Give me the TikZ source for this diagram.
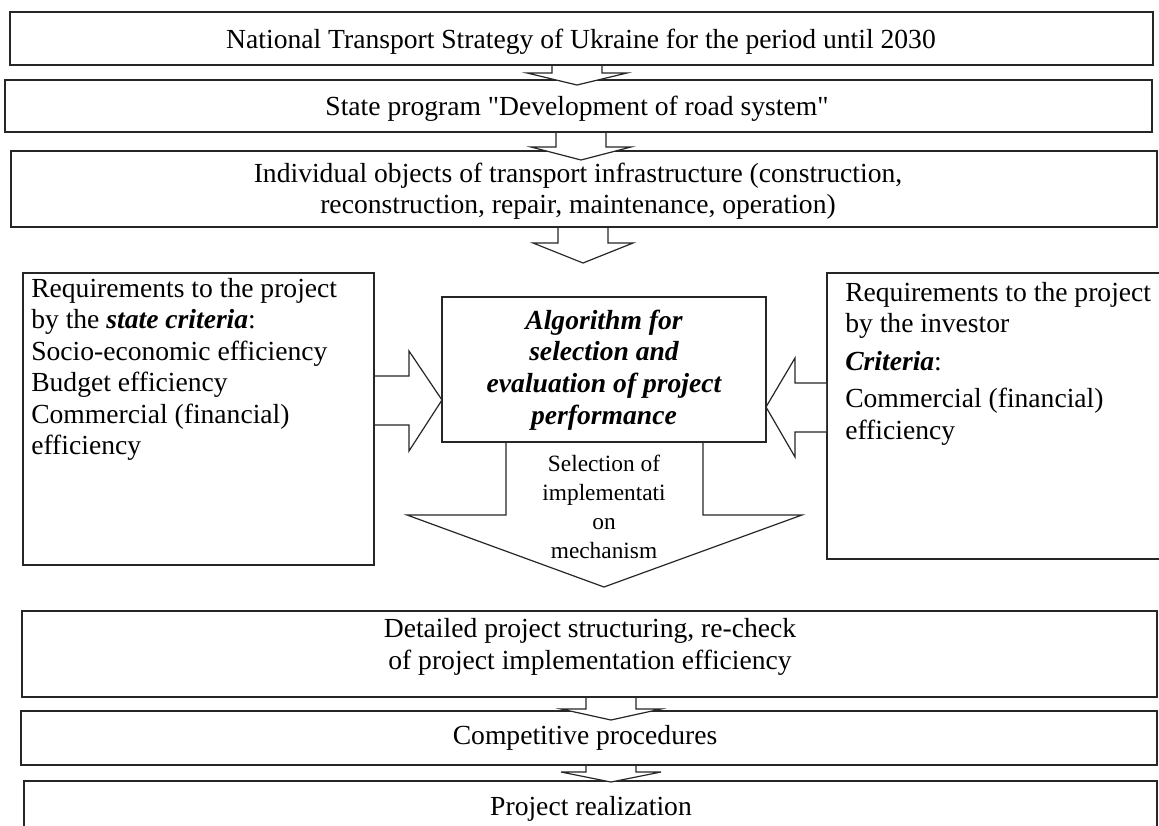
\documentclass[tikz,border=0pt]{standalone}
\usepackage{fontspec}
\setmainfont{Liberation Serif}
\newfontfamily\rawserif{Liberation Serif}
\newcommand\sq{{\rawserif\symbol{34}}}
\usetikzlibrary{fit,calc}
\newcommand\dnblock[6]{%
  \draw[blk] (#1-#5,#2) -- (#1-#5,#3) -- (#1-#6,#3) -- (#1,#4) -- (#1+#6,#3) -- (#1+#5,#3) -- (#1+#5,#2);}
\begin{document}
\begin{tikzpicture}[x=0.75pt,y=-0.75pt,
  box/.style={draw=black!85, line width=1.1pt, inner sep=0pt, fill=white},
  txt/.style={font=\fontsize{20.7}{23.6}\selectfont, align=center, inner sep=0pt, text=black},
  smalltxt/.style={font=\fontsize{17.5}{21.8}\selectfont, align=center, inner sep=0pt, text=black},
  blk/.style={draw=black!85, line width=0.9pt, fill=white, line join=miter}]
\useasboundingbox (0,0) rectangle (1159,825);
\clip (0,0) rectangle (1159,825);
\fill[white] (0,0) rectangle (1159,825);

% boxes
\node[box, fit={(10,12)(1153,65)}] (b1) {};
\node[box, fit={(5,80)(1152,132)}] (b2) {};
\node[box, fit={(11,151)(1157,227)}] (b3) {};
\node[box, fit={(23,273)(374,565)}] (lbox) {};
\node[box, fit={(442,297)(766,442)}] (alg) {};
\node[box, fit={(827,273)(1170,559)}] (rbox) {};
\node[box, fit={(22,611)(1157,697)}] (b4) {};
\node[box, fit={(21,711)(1157,765)}] (b5) {};
\node[box, fit={(24,781)(1157,850)}] (b6) {};

% block arrows
\dnblock{577}{66}{73}{85}{25}{50}
\dnblock{581}{133}{147}{160}{25}{50}
\dnblock{583}{228}{243}{263}{25}{50}
\dnblock{611}{698}{709}{720}{25}{50}
\dnblock{611}{766}{772}{782}{25}{50}
\draw[blk] (375,376) -- (409,376) -- (409,351) -- (442,400) -- (409,451) -- (409,425) -- (375,425);
\draw[blk] (826,383) -- (795,383) -- (795,358) -- (766,407) -- (795,457) -- (795,432) -- (826,432);
\draw[blk] (506,443) -- (506,515) -- (407,515) -- (604,587) -- (802,515) -- (703,515) -- (703,443);

% texts
\node[txt] (t1) at (581,41.5) {National Transport Strategy of Ukraine for the period until 2030};
\node[txt] (t2) at (577,108.5) {State program \sq Development of road system\sq};
\node[txt] (t3) at (578,191) {Individual objects of transport infrastructure (construction,\\reconstruction, repair, maintenance, operation)};
\node[txt, align=left, anchor=north west] (tl) at (31,278) {Requirements to the project\\by the \textbf{\textit{state criteria}}:\\Socio-economic efficiency\\Budget efficiency\\Commercial (financial)\\efficiency};
\node[txt, font=\fontsize{20.7}{23.8}\selectfont\bfseries\itshape] (ta) at (604,370) {Algorithm for\\selection and\\evaluation of project\\performance};
\node[txt, align=left, anchor=north west] (tr) at (845,282) {Requirements to the project\\by the investor\\[4.5pt]\textbf{\textit{Criteria}}:\\[4.5pt]Commercial (financial)\\efficiency};
\node[smalltxt] (td) at (604,507) {Selection of\\implementati\\on\\mechanism};
\node[txt] (t4) at (590,647) {Detailed project structuring, re-check\\of project implementation efficiency};
\node[txt] (t5) at (585,737.5) {Competitive procedures};
\node[txt] (t6) at (591,809) {Project realization};
\end{tikzpicture}
\end{document}
